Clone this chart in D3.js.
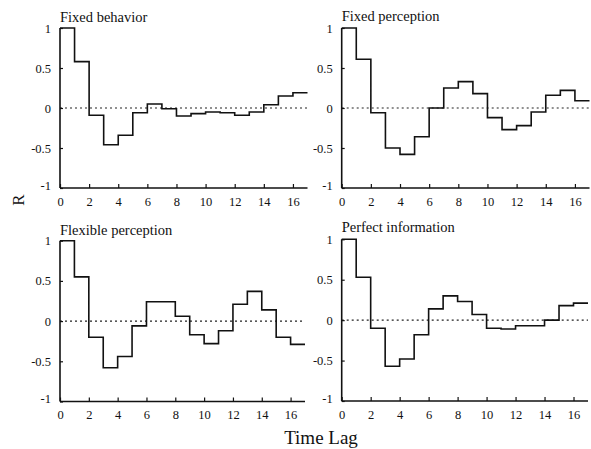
<!DOCTYPE html>
<html><head><meta charset="utf-8">
<script src="https://cdn.jsdelivr.net/npm/d3@7"></script>
<style>body{margin:0;background:#fff}svg{display:block}text{font-family:"Liberation Serif","Times New Roman",serif;fill:#111}</style>
</head><body>
<svg id="c" width="591" height="449"></svg>
<script>
const lags = d3.range(0, 17);
const titles = ["Fixed behavior", "Fixed perception", "Flexible perception", "Perfect information"];
const fixedBehavior = [1, 0.58, -0.09, -0.46, -0.34, -0.06, 0.05, -0.01, -0.1, -0.07, -0.05, -0.06, -0.09, -0.05, 0.04, 0.15, 0.19];
const fixedPerception = [1, 0.61, -0.06, -0.5, -0.58, -0.36, 0, 0.25, 0.33, 0.18, -0.12, -0.27, -0.22, -0.05, 0.16, 0.22, 0.09];
const flexiblePerception = [1, 0.55, -0.2, -0.58, -0.44, -0.06, 0.24, 0.24, 0.06, -0.17, -0.28, -0.12, 0.21, 0.37, 0.14, -0.2, -0.29];
const perfectInformation = [1, 0.53, -0.1, -0.57, -0.48, -0.18, 0.14, 0.3, 0.23, 0.07, -0.1, -0.11, -0.07, -0.07, 0, 0.18, 0.21];
const xTicks = [0, 2, 4, 6, 8, 10, 12, 14, 16];
const yTicks = [-1, -0.5, 0, 0.5, 1];
const yTickLabels = ["-1", "-0.5", "0", "0.5", "1"];

const series = [fixedBehavior, fixedPerception, flexiblePerception, perfectInformation];
const layout = [
  {x0: 60, x1: 307.5, yb: 188, yt: 28, ty: 22},
  {x0: 341.7, x1: 589.5, yb: 188, yt: 28, ty: 21},
  {x0: 60, x1: 305, yb: 401.5, yt: 240.7, ty: 235},
  {x0: 341.7, x1: 588, yb: 401, yt: 239.3, ty: 232}
];
const svg = d3.select("#c");

series.forEach((vals, i) => {
  const L = layout[i];
  const x = d3.scaleLinear().domain([0, 17]).range([L.x0, L.x1]);
  const y = d3.scaleLinear().domain([-1, 1]).range([L.yb, L.yt]);
  const g = svg.append("g");

  g.append("line").attr("x1", x(0)).attr("x2", x(17)).attr("y1", y(0)).attr("y2", y(0))
    .attr("stroke", "#222").attr("stroke-width", 1.1).attr("stroke-dasharray", "2,3");

  const xa = d3.axisBottom(x).tickValues(xTicks).tickSize(-4).tickPadding(9).tickFormat(d3.format("d"));
  const gx = g.append("g").attr("transform", `translate(0,${L.yb})`).call(xa);
  gx.select(".domain").attr("d", `M${x(0)},0H${x(17)}`).attr("stroke", "#111").attr("stroke-width", 1.6);
  gx.selectAll(".tick line").attr("stroke", "#111").attr("stroke-width", 1.2);
  gx.selectAll(".tick text").attr("font-size", 12.5).attr("font-family", '"Liberation Serif",serif').attr("fill", "#111");

  const ya = d3.axisLeft(y).tickValues(yTicks).tickSize(-3).tickPadding(9).tickFormat((d, j) => yTickLabels[j]);
  const gy = g.append("g").attr("transform", `translate(${L.x0},0)`).call(ya);
  gy.select(".domain").attr("d", `M0,${y(-1)}V${y(1)}`).attr("stroke", "#111").attr("stroke-width", 1.6);
  gy.selectAll(".tick line").attr("stroke", "#111").attr("stroke-width", 1.2);
  gy.selectAll(".tick text").attr("font-size", 12.5).attr("font-family", '"Liberation Serif",serif').attr("fill", "#111");
  gy.selectAll(".tick").filter(d => d === -1).select("text").attr("dy", "0.1em");

  const pts = lags.map((k, j) => [k, vals[j]]);
  pts.push([lags[lags.length - 1] + 1, vals[vals.length - 1]]);
  const line = d3.line().x(d => x(d[0])).y(d => y(d[1])).curve(d3.curveStepAfter);
  g.append("path").attr("d", line(pts)).attr("fill", "none").attr("stroke", "#111").attr("stroke-width", 1.6);

  g.append("text").attr("x", L.x0).attr("y", L.ty).attr("font-size", 14.5).text(titles[i]);
});

svg.append("text").attr("transform", "translate(24,200) rotate(-90)").attr("text-anchor", "middle")
  .attr("font-size", 17).text("R");
svg.append("text").attr("x", 321).attr("y", 444).attr("text-anchor", "middle")
  .attr("font-size", 19).text("Time Lag");
</script>
</body></html>
